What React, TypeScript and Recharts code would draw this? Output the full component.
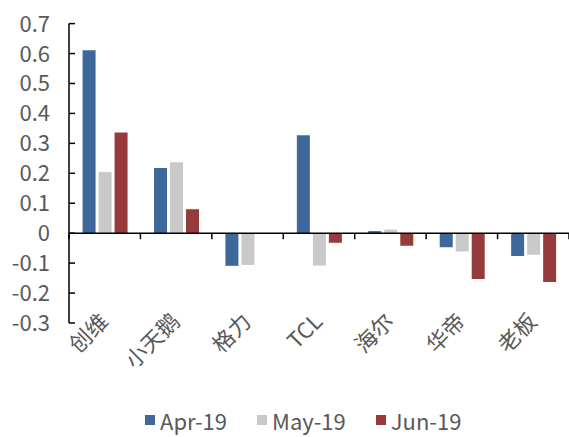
import React from 'react';
import { BarChart, Bar, XAxis, YAxis, Legend, ReferenceLine } from 'recharts';

const categories = ['创维', '小天鹅', '格力', 'TCL', '海尔', '华帝', '老板'];
const apr19 = [0.611, 0.218, -0.109, 0.327, 0.007, -0.047, -0.076];
const may19 = [0.204, 0.237, -0.106, -0.108, 0.012, -0.061, -0.072];
const jun19 = [0.336, 0.08, null, -0.032, -0.042, -0.153, -0.163];
const yTicks = [-0.3, -0.2, -0.1, 0, 0.1, 0.2, 0.3, 0.4, 0.5, 0.6, 0.7];

const series = [
  { key: 'Apr-19', values: apr19, color: '#3E6899' },
  { key: 'May-19', values: may19, color: '#C9C9C9' },
  { key: 'Jun-19', values: jun19, color: '#963A3C' },
];

const data = categories.map((name, i) => ({
  name,
  ...Object.fromEntries(series.map((s) => [s.key, s.values[i]])),
}));

const FONT = '"Noto Sans CJK SC", "Noto Sans", sans-serif';
const TEXT = '#595959';

function YTick({ x, y, payload }: any) {
  const v = payload.value;
  const label = Math.abs(v) < 1e-9 ? '0' : v.toFixed(1);
  return (
    <g>
      <line x1={x} x2={x + 6} y1={y} y2={y} stroke="#000" strokeWidth={1.5} />
      <text x={x - 19} y={y} dy={8} textAnchor="end" fill={TEXT} fontSize={22} fontFamily={FONT}>
        {label}
      </text>
    </g>
  );
}

function XTick({ x, y, payload }: any) {
  const ax = x + 5;
  const ay = y;
  return (
    <text
      x={ax}
      y={ay}
      transform={`rotate(-45, ${ax}, ${ay})`}
      textAnchor="end"
      fill={TEXT}
      fontSize={22}
      fontFamily={FONT}
    >
      {payload.value}
    </text>
  );
}

// zero line with small downward ticks at the category boundaries
function ZeroAxis(props: any) {
  const { x1, x2, y1 } = props;
  const n = categories.length;
  const step = (x2 - x1) / n;
  return (
    <g>
      <line x1={x1} x2={x2} y1={y1} y2={y1} stroke="#000" strokeWidth={1.5} />
      {Array.from({ length: n + 1 }, (_, i) => (
        <line key={i} x1={x1 + i * step} x2={x1 + i * step} y1={y1} y2={y1 + 6} stroke="#000" strokeWidth={1.5} />
      ))}
    </g>
  );
}

function LegendContent() {
  return (
    <div style={{ display: 'flex', alignItems: 'center', fontFamily: FONT }}>
      {series.map((s) => (
        <div key={s.key} style={{ display: 'flex', alignItems: 'center', margin: '0 15px' }}>
          <span style={{ width: 10, height: 10, background: s.color, marginRight: 5 }} />
          <span style={{ color: TEXT, fontSize: 22, whiteSpace: 'nowrap' }}>{s.key}</span>
        </div>
      ))}
    </div>
  );
}

export default function App() {
  return (
    <div style={{ width: 569, height: 437, background: '#fff' }}>
      <style>{'body{margin:0}'}</style>
      <BarChart
        width={569}
        height={437}
        data={data}
        margin={{ top: 23.6, right: 0, left: 0, bottom: 22 }}
        barCategoryGap="19%"
        barGap={3}
      >
        <XAxis
          dataKey="name"
          axisLine={false}
          tickLine={false}
          tickSize={0}
          tickMargin={0}
          interval={0}
          height={60}
          tick={<XTick />}
        />
        <YAxis
          width={69}
          domain={[-0.3, 0.7]}
          ticks={yTicks}
          interval={0}
          axisLine={{ stroke: '#000', strokeWidth: 1.5 }}
          tickLine={false}
          tickSize={0}
          tickMargin={0}
          tick={<YTick />}
        />
        {series.map((s) => (
          <Bar key={s.key} dataKey={s.key} fill={s.color} isAnimationActive={false} />
        ))}
        <ReferenceLine y={0} shape={<ZeroAxis />} />
        <Legend
          verticalAlign="bottom"
          content={<LegendContent />}
          wrapperStyle={{ left: 130, width: 'auto', bottom: 'auto', top: 404 }}
        />
      </BarChart>
    </div>
  );
}
